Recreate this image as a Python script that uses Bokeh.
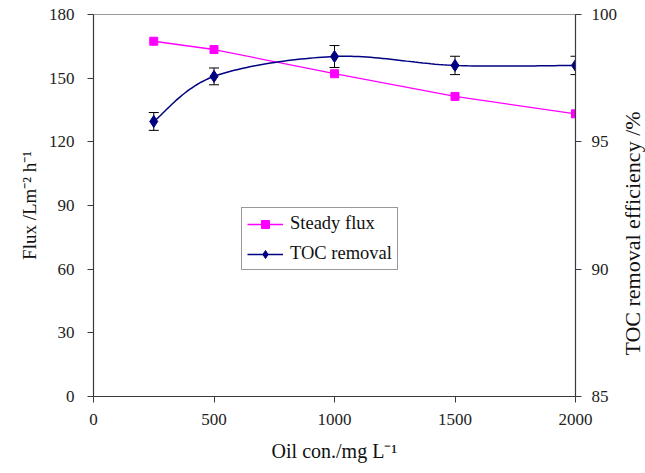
import math
import numpy as np
from bokeh.plotting import figure
from bokeh.models import (Range1d, LinearAxis, FixedTicker, ColumnDataSource,
                          Whisker, TeeHead, Legend, LegendItem, Label)
from bokeh.embed import file_html
from bokeh.resources import INLINE

# ---- data ----
oil = [250, 500, 1000, 1500, 2000]
flux = [167.4, 163.5, 152.1, 141.4, 133.2]
toc = [95.8, 97.57, 98.35, 98.0, 98.0]
toc_err = [0.35, 0.33, 0.43, 0.36, 0.36]

x_ticks = [0, 500, 1000, 1500, 2000]
flux_ticks = [0, 30, 60, 90, 120, 150, 180]
toc_ticks = [85, 90, 95, 100]

FONT = "Liberation Serif"
AXIS_COLOR = "#3a3a3a"

def smooth(xs, ys, n=30):
    # Catmull-Rom -> cubic Bezier (spreadsheet-style smoothed line)
    P = np.column_stack([xs, ys]).astype(float)
    out = []
    m = len(P)
    for i in range(m - 1):
        p0 = P[i - 1] if i > 0 else P[i]
        p1 = P[i]
        p2 = P[i + 1]
        p3 = P[i + 2] if i + 2 < m else P[i + 1]
        c1 = p1 + (p2 - p0) / 6.0
        c2 = p2 - (p3 - p1) / 6.0
        t = np.linspace(0, 1, n, endpoint=(i == m - 2))[:, None]
        seg = ((1 - t) ** 3) * p1 + 3 * ((1 - t) ** 2) * t * c1 + 3 * (1 - t) * t ** 2 * c2 + t ** 3 * p2
        out.append(seg)
    arr = np.vstack(out)
    return arr[:, 0], arr[:, 1]

p = figure(width=645, height=473, output_backend="svg", toolbar_location=None,
           x_range=Range1d(0, 2000), y_range=Range1d(0, 180),
           min_border_left=93, min_border_right=69, min_border_top=14, min_border_bottom=77)
p.extra_y_ranges = {"toc": Range1d(85, 100)}

p.xgrid.visible = False
p.ygrid.visible = False
p.outline_line_color = "#9a9a9a"
p.outline_line_width = 1
p.background_fill_color = "white"
p.border_fill_color = "white"

def style_axis(ax, ticks):
    ax.ticker = FixedTicker(ticks=ticks)
    ax.minor_tick_line_color = None
    ax.major_tick_out = 6
    ax.major_tick_in = 0
    ax.axis_line_color = AXIS_COLOR
    ax.major_tick_line_color = AXIS_COLOR
    ax.axis_line_width = 1.2
    ax.major_label_text_font = FONT
    ax.major_label_text_font_size = "17px"
    ax.major_label_text_color = "#222222"
    ax.axis_label_text_font = FONT
    ax.axis_label_text_font_size = "20px"
    ax.axis_label_text_font_style = "normal"
    ax.axis_label_text_color = "#111111"

xa = p.xaxis[0]
style_axis(xa, x_ticks)
xa.major_label_standoff = 11
xa.axis_label = "Oil con./mg L⁻¹"
xa.axis_label_standoff = 12

ya = p.yaxis[0]
style_axis(ya, flux_ticks)
ya.major_label_standoff = 13
ya.axis_label = "Flux /Lm⁻² h⁻¹"
ya.axis_label_text_font_size = "19px"
ya.axis_label_standoff = 6

ra = LinearAxis(y_range_name="toc")
style_axis(ra, toc_ticks)
ra.major_label_standoff = 10
p.add_layout(ra, "right")

# right axis title (reads bottom-to-top, like the reference)
right_title = Label(x=2238, y=91.4, y_range_name="toc", text="TOC removal efficiency /%",
                    angle=math.pi / 2, text_align="center", text_baseline="middle",
                    text_font=FONT, text_font_size="22px", text_color="#111111")
p.add_layout(right_title, "right")

# Flux series
fl_line = p.line(oil, flux, line_color="#ff00ff", line_width=1.3)
fl_mark = p.scatter(oil, flux, marker="square", size=8, fill_color="#ff00ff", line_color="#ff00ff")

# TOC series
sx, sy = smooth(oil, toc)
toc_line = p.line(sx, sy, line_color="#000080", line_width=1.5, y_range_name="toc")
src = ColumnDataSource(dict(x=oil, y=toc,
                            lo=[t - e for t, e in zip(toc, toc_err)],
                            hi=[t + e for t, e in zip(toc, toc_err)]))
wh = Whisker(source=src, base="x", upper="hi", lower="lo", y_range_name="toc",
             line_color="black", line_width=1,
             upper_head=TeeHead(size=10, line_color="black", line_width=1),
             lower_head=TeeHead(size=10, line_color="black", line_width=1))
p.add_layout(wh)
toc_mark = p.scatter(oil, toc, marker="diamond", size=12, fill_color="#000080",
                     line_color="#000080", y_range_name="toc")

legend = Legend(items=[LegendItem(label="Steady flux", renderers=[fl_line, fl_mark]),
                       LegendItem(label="TOC removal", renderers=[toc_line, toc_mark])],
                location=(148, 126))
legend.label_text_font = FONT
legend.label_text_font_size = "18.5px"
legend.label_text_color = "#111111"
legend.glyph_width = 36
legend.glyph_height = 20
legend.label_height = 20
legend.spacing = 9
legend.padding = 5
legend.margin = 0
legend.label_standoff = 7
legend.border_line_color = "#333333"
legend.border_line_width = 1
legend.background_fill_color = "white"
legend.background_fill_alpha = 1
p.add_layout(legend, "center")

open("out.html", "w").write(file_html(p, INLINE))
